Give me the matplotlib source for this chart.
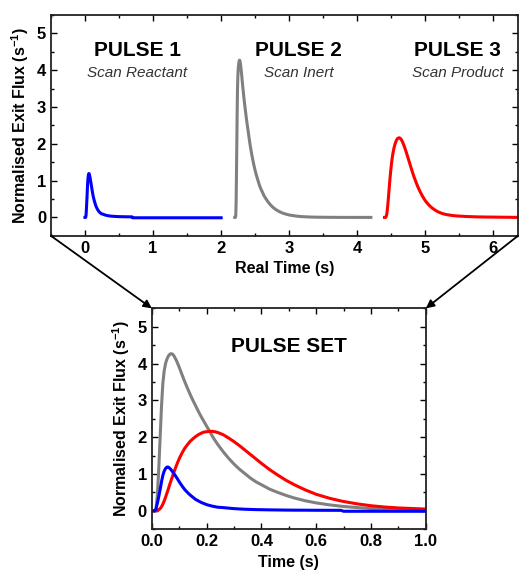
import numpy as np
import matplotlib
matplotlib.use('Agg')
import matplotlib.pyplot as plt
from matplotlib.patches import ConnectionPatch
from matplotlib.ticker import MultipleLocator, FormatStrFormatter

plt.rcParams['font.family'] = ['Liberation Sans', 'DejaVu Sans']
plt.rcParams['font.weight'] = 'bold'
plt.rcParams['mathtext.default'] = 'regular'

# time since pulse start (s)
t = [0, 0.01, 0.015, 0.02, 0.025, 0.03, 0.035, 0.04, 0.045, 0.05,
     0.055, 0.06, 0.065, 0.07, 0.075, 0.08, 0.09, 0.1, 0.11, 0.12,
     0.13, 0.14, 0.15, 0.16, 0.17, 0.18, 0.19, 0.2, 0.21, 0.22,
     0.23, 0.24, 0.26, 0.28, 0.3, 0.32, 0.34, 0.36, 0.38, 0.4,
     0.43, 0.46, 0.49, 0.52, 0.56, 0.6, 0.65, 0.69, 0.7, 0.75,
     0.8, 0.85, 0.9, 0.95, 1.0, 1.1, 1.2, 1.35, 1.5, 1.75, 2.0]

# normalised exit flux (1/s)
reactant = [0, 0, 0.05, 0.2, 0.38, 0.57, 0.78, 0.96, 1.08, 1.15,
            1.19, 1.19, 1.16, 1.12, 1.07, 1.02, 0.91, 0.79, 0.68, 0.58,
            0.5, 0.43, 0.37, 0.31, 0.27, 0.23, 0.2, 0.17, 0.15, 0.13,
            0.115, 0.1, 0.09, 0.075, 0.062, 0.053, 0.045, 0.04, 0.035, 0.032,
            0.028, 0.025, 0.022, 0.02, 0.019, 0.017, 0.016, 0.015, -0.01, -0.01,
            -0.01, -0.01, -0.01, -0.01, -0.01, -0.01, -0.01, -0.01, -0.01, -0.01, -0.01]
inert = [0, 0, 0.05, 0.4, 1.1, 1.95, 2.8, 3.45, 3.8, 4.0,
         4.12, 4.2, 4.25, 4.27, 4.26, 4.22, 4.08, 3.9, 3.7, 3.51,
         3.33, 3.16, 3.0, 2.85, 2.7, 2.56, 2.43, 2.3, 2.17, 2.04,
         1.92, 1.81, 1.61, 1.43, 1.27, 1.13, 1.01, 0.89, 0.79, 0.71,
         0.59, 0.5, 0.42, 0.35, 0.275, 0.217, 0.162, 0.128, 0.12, 0.09,
         0.066, 0.05, 0.037, 0.027, 0.02, 0.011, 0.006, 0.003, 0.001, 0, 0]
product = [0, 0, 0, 0.01, 0.03, 0.06, 0.11, 0.18, 0.27, 0.37,
           0.48, 0.59, 0.71, 0.82, 0.93, 1.04, 1.24, 1.42, 1.57, 1.7,
           1.8, 1.89, 1.96, 2.02, 2.07, 2.11, 2.14, 2.15, 2.16, 2.16,
           2.15, 2.13, 2.07, 1.98, 1.88, 1.77, 1.65, 1.53, 1.41, 1.29,
           1.12, 0.97, 0.83, 0.71, 0.57, 0.45, 0.34, 0.27, 0.255, 0.19,
           0.14, 0.105, 0.08, 0.065, 0.05, 0.035, 0.025, 0.015, 0.01, 0.005, 0]

pulses = [reactant, inert, product]
colors = ['#0000ff', '#808080', '#ff0000']
titles = ['PULSE 1', 'PULSE 2', 'PULSE 3']
subtitles = ['Scan Reactant', 'Scan Inert', 'Scan Product']
offsets = [0, 2.2, 4.4]
title_x = [0.77, 3.14, 5.47]

t = np.array(t)

fig = plt.figure(figsize=(5.2, 5.71), dpi=100)
ax1 = fig.add_axes([0.098, 0.587, 0.898, 0.387])
ax2 = fig.add_axes([0.292, 0.073, 0.527, 0.387])


def style(ax):
    ax.tick_params(which='both', direction='in', top=True, right=True,
                   labelsize=12, width=1.0)
    ax.tick_params(which='major', length=4)
    ax.tick_params(which='minor', length=2.5)
    for s in ax.spines.values():
        s.set_linewidth(1.3)
        s.set_color('#222222')
    for lab in ax.get_xticklabels() + ax.get_yticklabels():
        lab.set_fontweight('bold')
    ax.set_ylabel('Normalised Exit Flux (s$^{-1}$)', fontsize=11.5, fontweight='bold')


# real time
for vals, c, off in zip(pulses, colors, offsets):
    ax1.plot(t + off, vals, color=c, lw=2.2, solid_joinstyle='round')
for tx, ti, st in zip(title_x, titles, subtitles):
    ax1.text(tx, 4.53, ti, fontsize=15, fontweight='bold', ha='center', va='center')
    ax1.text(tx, 3.93, st, fontsize=11, fontweight='normal', style='italic',
             color='#333333', ha='center', va='center')
ax1.set_xlim(-0.5, 6.36)
ax1.set_ylim(-0.5, 5.5)
ax1.xaxis.set_major_locator(MultipleLocator(1))
ax1.xaxis.set_minor_locator(MultipleLocator(0.5))
ax1.yaxis.set_major_locator(MultipleLocator(1))
ax1.yaxis.set_minor_locator(MultipleLocator(0.5))
ax1.set_xlabel('Real Time (s)', fontsize=11.5, fontweight='bold')
style(ax1)

# pulse set
for vals, c in zip([inert, product, reactant], [colors[1], colors[2], colors[0]]):
    ax2.plot(t, vals, color=c, lw=2.2, solid_joinstyle='round')
ax2.text(0.5, 4.46, 'PULSE SET', fontsize=15, fontweight='bold', ha='center', va='center')
ax2.set_xlim(0, 1.0)
ax2.set_ylim(-0.5, 5.5)
ax2.xaxis.set_major_locator(MultipleLocator(0.2))
ax2.xaxis.set_minor_locator(MultipleLocator(0.1))
ax2.yaxis.set_major_locator(MultipleLocator(1))
ax2.yaxis.set_minor_locator(MultipleLocator(0.5))
ax2.xaxis.set_major_formatter(FormatStrFormatter('%.1f'))
ax2.set_xlabel('Time (s)', fontsize=11.5, fontweight='bold')
style(ax2)

for xa, xb in [(0, 0), (1, 1)]:
    con = ConnectionPatch(xyA=(xa, 0), coordsA=ax1.transAxes,
                          xyB=(xb, 1), coordsB=ax2.transAxes,
                          arrowstyle='-|>', mutation_scale=12, lw=1.3, color='black')
    fig.add_artist(con)

fig.savefig('out.png', dpi=100)
